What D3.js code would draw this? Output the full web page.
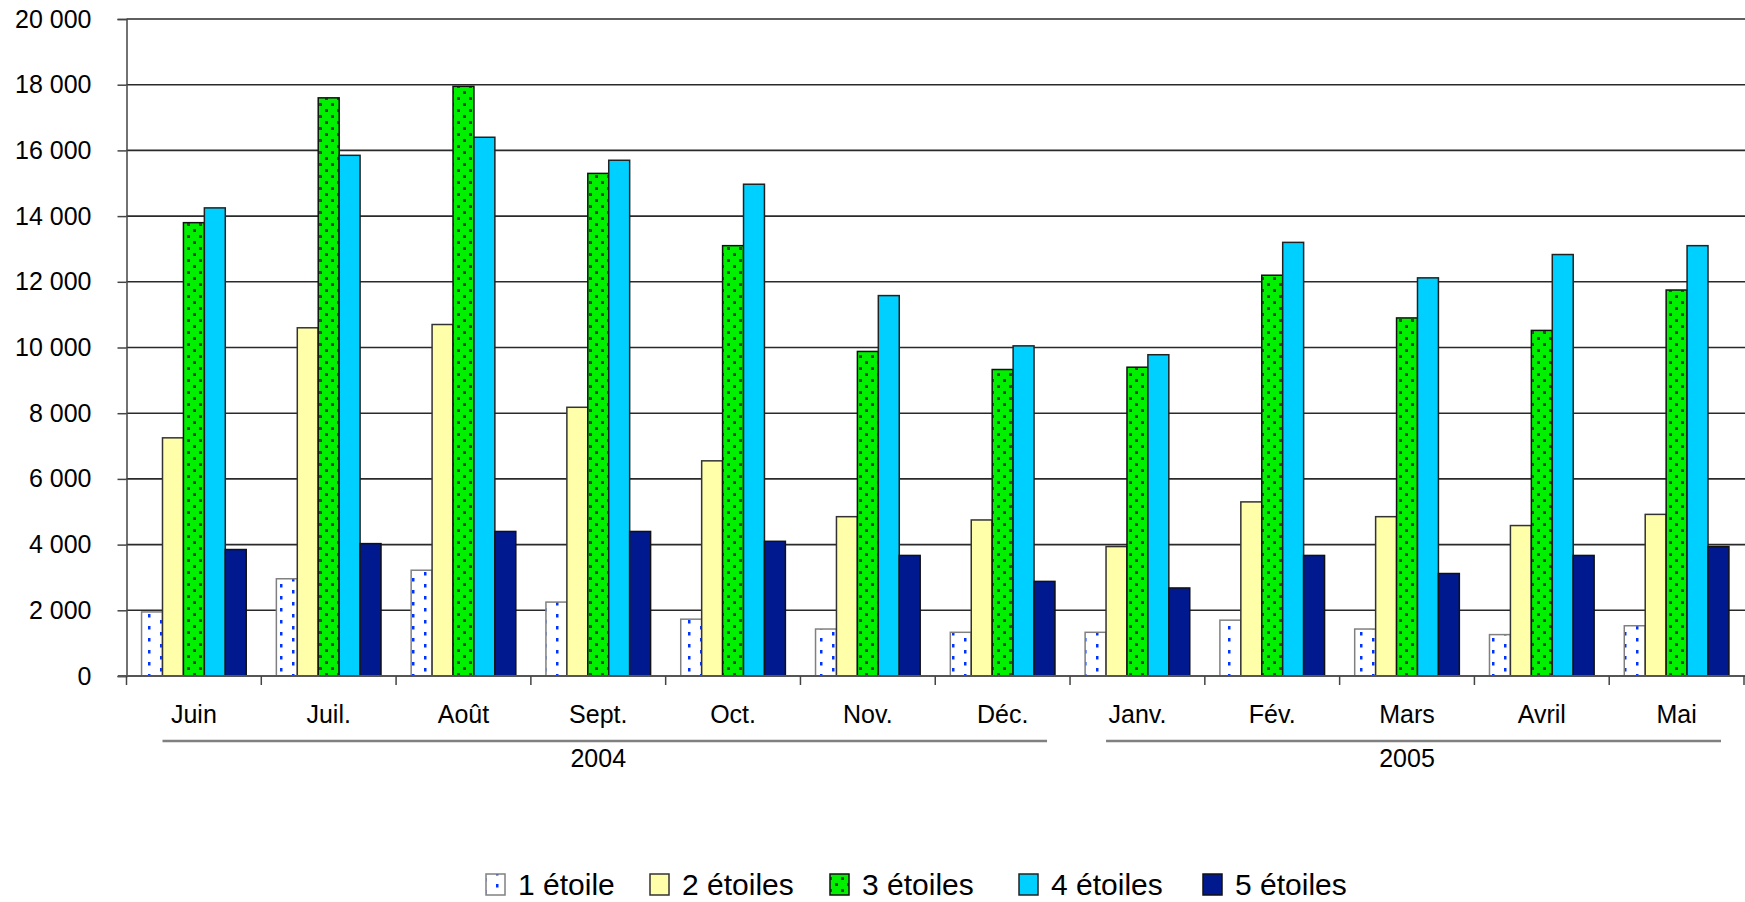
<!DOCTYPE html>
<html>
<head>
<meta charset="utf-8">
<script src="https://cdn.jsdelivr.net/npm/d3@7"></script>
<style>
    body { margin: 0; background: #fff; }
    text { font-family: "Liberation Sans", Arial, sans-serif; fill: #000; }
</style>
</head>
<body>
<svg id="chart" width="1745" height="902"></svg>
<script>
var months = ["Juin", "Juil.", "Août", "Sept.", "Oct.", "Nov.", "Déc.", "Janv.", "Fév.", "Mars", "Avril", "Mai"];
var years = ["2004", "2005"];
var yearMonths = [7, 5]; // how many months under each year
var seriesNames = ["1 étoile", "2 étoiles", "3 étoiles", "4 étoiles", "5 étoiles"];

var etoile1 = [1950, 2960, 3220, 2250, 1730, 1430, 1330, 1330, 1700, 1430, 1260, 1530];
var etoile2 = [7250, 10600, 10700, 8180, 6550, 4850, 4750, 3940, 5300, 4850, 4580, 4920];
var etoile3 = [13800, 17600, 17950, 15300, 13100, 9880, 9330, 9400, 12200, 10900, 10520, 11750];
var etoile4 = [14250, 15850, 16400, 15700, 14970, 11580, 10050, 9780, 13200, 12120, 12830, 13100];
var etoile5 = [3850, 4030, 4400, 4400, 4100, 3670, 2880, 2680, 3670, 3120, 3670, 3940];

var yTicks = [0, 2000, 4000, 6000, 8000, 10000, 12000, 14000, 16000, 18000, 20000];

var allSeries = [etoile1, etoile2, etoile3, etoile4, etoile5];
var fills = ["url(#dots1)", "#FFFFAA", "url(#dots3)", "#00D0FF", "#00198F"];
var strokes = ["#808080", "#333", "#111", "#222", "#111"];
var legendX = [486, 650, 830, 1019, 1203]; // where each legend box starts

// note: "top" is taken by window.top, so plotTop
var svg = d3.select("#chart"),
    plotLeft = 126.5,
    plotRight = 1744,
    plotTop = 19,
    plotBottom = 676;

// patterns for the dotted bars
var defs = svg.append("defs");
var p1 = defs.append("pattern")
    .attr("id", "dots1")
    .attr("patternUnits", "userSpaceOnUse")
    .attr("width", 24).attr("height", 12);
p1.append("rect").attr("width", 24).attr("height", 12).attr("fill", "#fff");
p1.append("rect").attr("x", 4).attr("y", 2).attr("width", 2.5).attr("height", 3.5).attr("fill", "#0033FF");
p1.append("rect").attr("x", 16).attr("y", 8).attr("width", 2.5).attr("height", 3.5).attr("fill", "#0033FF");

var p3 = defs.append("pattern")
    .attr("id", "dots3")
    .attr("patternUnits", "userSpaceOnUse")
    .attr("width", 12).attr("height", 12);
p3.append("rect").attr("width", 12).attr("height", 12).attr("fill", "#00F000");
p3.append("rect").attr("x", 1).attr("y", 1).attr("width", 3).attr("height", 3).attr("fill", "#404040");
p3.append("rect").attr("x", 7).attr("y", 7).attr("width", 3).attr("height", 3).attr("fill", "#404040");

var xScale = d3.scaleBand()
    .domain(months)
    .range([plotLeft, plotRight])
    .padding(0);

var xInner = d3.scaleBand()
    .domain(d3.range(seriesNames.length))
    .range([0, xScale.bandwidth()])
    .paddingInner(0)
    .paddingOuter(0.72);

var yScale = d3.scaleLinear()
    .domain([0, 20000])
    .range([plotBottom, plotTop]);

var loc = d3.formatLocale({decimal: ",", thousands: " ", grouping: [3], currency: ["", " €"]});
var fmt = loc.format(",");

// gridlines
svg.append("g")
    .selectAll("line")
    .data(yTicks.filter(function(d) { return d > 0; }))
    .enter()
    .append("line")
    .attr("x1", plotLeft)
    .attr("x2", 1745)
    .attr("y1", function(d) { return yScale(d); })
    .attr("y2", function(d) { return yScale(d); })
    .attr("stroke", "#2a2a2a")
    .attr("stroke-width", 1.6);

// y axis
var yAxis = svg.append("g")
    .attr("transform", "translate(" + plotLeft + ",0)")
    .call(d3.axisLeft(yScale).tickValues(yTicks).tickFormat(fmt).tickSize(9).tickPadding(26));
yAxis.select(".domain").attr("stroke", "#444").attr("stroke-width", 1.5);
yAxis.selectAll(".tick line").attr("stroke", "#444").attr("stroke-width", 1.5);
yAxis.selectAll(".tick text")
    .attr("font-size", 25)
    .attr("fill", "#000");

// bars
var groups = svg.append("g")
    .selectAll("g")
    .data(allSeries)
    .enter()
    .append("g")
    .attr("fill", function(d, i) { return fills[i]; })
    .attr("stroke", function(d, i) { return strokes[i]; })
    .attr("stroke-width", 1.5);

groups.each(function(series, si) {
    d3.select(this).selectAll("rect")
        .data(series)
        .enter()
        .append("rect")
        .attr("x", function(d, i) { return xScale(months[i]) + xInner(si); })
        .attr("y", function(d) { return yScale(d); })
        .attr("width", xInner.bandwidth())
        .attr("height", function(d) { return plotBottom - yScale(d); });
});

// category axis
var xAxis = svg.append("g")
    .attr("transform", "translate(0," + plotBottom + ")");
xAxis.append("line")
    .attr("x1", 118).attr("x2", 1745)
    .attr("stroke", "#555").attr("stroke-width", 2);
xAxis.selectAll(".tk")
    .data(months.concat(["end"]))
    .enter()
    .append("line")
    .attr("class", "tk")
    .attr("x1", function(d, i) { return plotLeft + i * xScale.step(); })
    .attr("x2", function(d, i) { return plotLeft + i * xScale.step(); })
    .attr("y1", 0).attr("y2", 9)
    .attr("stroke", "#444").attr("stroke-width", 1.5);
xAxis.selectAll("text")
    .data(months)
    .enter()
    .append("text")
    .attr("x", function(d) { return xScale(d) + xScale.bandwidth() / 2; })
    .attr("y", 47)
    .attr("text-anchor", "middle")
    .attr("font-size", 25)
    .text(function(d) { return d; });

// year groups underneath
var start = 0;
years.forEach(function(yr, k) {
    var x0 = xScale(months[start]);
    var x1 = xScale(months[start + yearMonths[k] - 1]) + xScale.bandwidth();
    svg.append("line")
        .attr("x1", x0 + 36).attr("x2", x1 - 23)
        .attr("y1", 741).attr("y2", 741)
        .attr("stroke", "#808080").attr("stroke-width", 2.5);
    svg.append("text")
        .attr("x", (x0 + x1) / 2)
        .attr("y", 767)
        .attr("text-anchor", "middle")
        .attr("font-size", 25)
        .text(yr);
    start += yearMonths[k];
});

// legend
var legend = svg.append("g");
seriesNames.forEach(function(name, i) {
    legend.append("rect")
        .attr("x", legendX[i]).attr("y", 874)
        .attr("width", 19).attr("height", 21)
        .attr("fill", fills[i])
        .attr("stroke", strokes[i])
        .attr("stroke-width", 1.5);
    legend.append("text")
        .attr("x", legendX[i] + 32)
        .attr("y", 895)
        .attr("font-size", 30)
        .text(name);
});
</script>
</body>
</html>
